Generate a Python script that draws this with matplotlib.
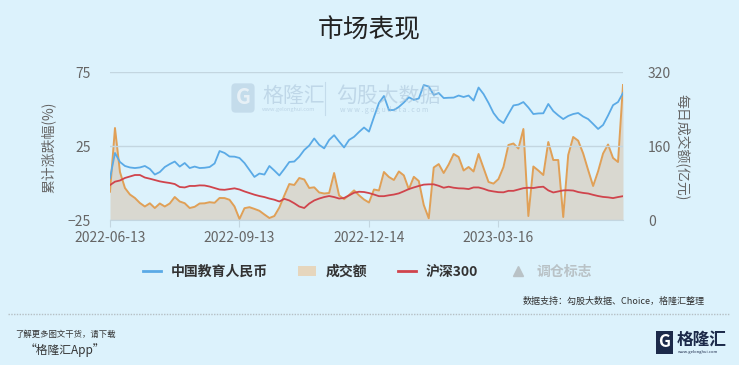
import matplotlib
matplotlib.use("Agg")
import matplotlib.pyplot as plt
from matplotlib.lines import Line2D
from matplotlib.patches import Patch
import numpy as np

plt.rcParams['font.family'] = ['Noto Sans CJK SC', 'DejaVu Sans']

# Data (one point every ~5 px of trading days)
tick_labels = ["2022-06-13", "2022-09-13", "2022-12-14", "2023-03-16"]
tick_pos = [0, 26, 52, 78]

edu_cny = [3.2, 20.3, 14.2, 11.5, 10.5, 10.1, 10.5, 11.5, 9.5, 5.7,
           7.4, 10.8, 12.8, 14.5, 11.1, 13.5, 10.1, 11.1, 10.1, 10.3,
           10.8, 13.2, 21.6, 20.3, 17.9, 17.8, 16.9, 13.5, 8.8, 4.1,
           6.4, 5.7, 11.5, 8.4, 5.1, 9.5, 14.2, 14.5, 17.8, 22.3,
           25.3, 30.1, 25.8, 23.4, 29.1, 32.3, 28.0, 24.0, 29.1, 31.2,
           34.5, 37.5, 34.7, 44.6, 54.1, 58.8, 49.3, 49.3, 51.4, 54.4,
           57.9, 56.2, 57.1, 66.2, 65.2, 59.5, 60.8, 57.4, 57.6, 57.7,
           59.1, 58.1, 59.1, 55.7, 64.5, 60.1, 54.1, 47.3, 42.9, 40.5,
           46.6, 52.4, 53.0, 54.7, 51.0, 46.6, 47.0, 47.1, 53.4, 48.6,
           45.7, 43.2, 45.3, 46.6, 47.3, 44.9, 43.2, 39.9, 36.5, 39.2,
           45.6, 52.6, 54.7, 60.8]

hs300 = [-1.4, 0.9, 1.7, 3.4, 4.4, 5.4, 5.4, 3.7, 2.9, 2.0,
         1.1, 0.5, 0.0, -0.7, -2.7, -3.0, -2.0, -2.0, -1.6, -1.7,
         -2.4, -3.4, -4.4, -4.6, -4.1, -3.6, -4.4, -5.7, -6.8, -7.9,
         -8.8, -9.5, -10.5, -11.3, -12.5, -10.7, -11.8, -13.7, -15.9, -16.9,
         -13.9, -11.8, -10.5, -9.5, -8.8, -9.5, -10.5, -10.1, -8.4, -6.6,
         -5.9, -6.1, -6.8, -7.8, -8.9, -8.9, -8.3, -7.8, -7.0, -5.6,
         -4.1, -3.0, -2.0, -1.1, -0.9, -0.9, -1.9, -3.2, -2.5, -3.2,
         -3.6, -3.7, -4.1, -3.0, -3.0, -3.9, -5.1, -5.7, -6.2, -6.3,
         -5.3, -5.3, -4.4, -3.5, -3.2, -3.4, -2.8, -2.5, -5.0, -6.4,
         -5.7, -5.0, -4.9, -5.1, -6.1, -6.7, -7.1, -8.0, -8.8, -9.4,
         -9.7, -10.2, -9.5, -8.9]

turnover = [61.2, 198.9, 103.8, 69.2, 55.1, 47.6, 36.8, 29.2, 36.1, 25.9,
            35.7, 29.2, 35.7, 49.7, 40.0, 36.3, 25.9, 28.5, 35.7, 36.1,
            38.5, 37.2, 47.6, 47.4, 43.7, 29.2, 2.2, 25.5, 27.7, 24.0,
            19.9, 11.9, 4.3, 8.6, 27.0, 53.0, 77.8, 75.7, 90.8, 87.6,
            69.2, 70.7, 59.5, 57.3, 58.4, 101.6, 53.0, 45.0, 54.1, 64.0,
            53.4, 44.3, 37.8, 65.9, 63.8, 103.8, 93.0, 86.5, 104.9, 96.4,
            66.4, 93.4, 84.3, 32.4, 3.7, 113.5, 120.9, 101.6, 120.0, 142.7,
            136.2, 107.0, 114.6, 104.9, 142.7, 112.4, 82.2, 78.7, 88.6, 114.6,
            162.2, 165.4, 154.6, 196.8, 8.6, 115.7, 107.0, 97.3, 168.6, 129.7,
            129.7, 6.5, 140.5, 179.5, 171.5, 144.0, 108.1, 73.5, 105.3, 143.8,
            163.2, 134.1, 125.4, 291.9]

BG = "#dcf2fc"
BLUE = "#5aaae6"
RED = "#d0444c"
ORANGE = "#e0a057"
FILL = "#d9d6cc"
GRID = "#c3d6e0"
TXT = "#666666"

x = np.arange(len(edu_cny))

fig = plt.figure(figsize=(7.39, 3.65), dpi=100, facecolor=BG)
ax1 = fig.add_axes([110 / 739, 145 / 365, 513 / 739, 148 / 365])
ax2 = ax1.twinx()

# turnover area on the right axis
ax2.fill_between(x, 0, turnover, color=FILL, alpha=0.9, linewidth=0)
ax2.plot(x, turnover, color=ORANGE, lw=1.4)
ax2.set_ylim(0, 320)
ax2.set_yticks([0, 160, 320])

# cumulative change lines on the left axis, drawn above
ax1.set_zorder(ax2.get_zorder() + 1)
ax1.patch.set_visible(False)
ax1.plot(x, edu_cny, color=BLUE, lw=1.3)
ax1.plot(x, hs300, color=RED, lw=1.3)
ax1.set_ylim(-25, 75)
ax1.set_yticks([-25, 25, 75])
ax1.set_xlim(0, len(x) - 1)
ax1.set_xticks(tick_pos)
ax1.set_xticklabels(tick_labels)

for ax in (ax1, ax2):
    for s in ax.spines.values():
        s.set_visible(False)
    ax.tick_params(axis="y", length=0, colors=TXT, labelsize=10)
ax1.tick_params(axis="y", pad=14)
ax2.tick_params(axis="y", pad=18)
ax1.spines["bottom"].set_visible(True)
ax1.spines["bottom"].set_color(GRID)
ax1.tick_params(axis="x", length=5, color=GRID, colors=TXT, labelsize=10, pad=3)
ax1.yaxis.grid(True, color=GRID, lw=1)
ax1.set_axisbelow(True)

fig.text(48 / 739, 1 - 147 / 365, "累计涨跌幅(%)", rotation=90, ha="center", va="center",
         color=TXT, fontsize=10)
fig.text(683 / 739, 1 - 147 / 365, "每日成交额(亿元)", rotation=-90, ha="center", va="center",
         color=TXT, fontsize=10)

# title
fig.text(0.5, 1 - 30 / 365, "市场表现", ha="center", va="center", fontsize=18.5,
         color="#222222")

# watermark
wm = "#a8c2d8"
fig.text(243 / 739, 1 - 98 / 365, "G", ha="center", va="center", fontsize=15,
         fontweight="bold", color="white", alpha=0.6,
         bbox=dict(boxstyle="round,pad=0.2", fc=wm, ec="none", alpha=0.45))
fig.text(262 / 739, 1 - 96 / 365, "格隆汇", ha="left", va="center", fontsize=15,
         color=wm, alpha=0.55)
fig.text(262 / 739, 1 - 110 / 365, "www.gelonghui.com", ha="left", va="center",
         fontsize=4, color=wm, alpha=0.6)
fig.add_artist(Line2D([325 / 739, 325 / 739], [1 - 82 / 365, 1 - 115 / 365],
                      color=wm, lw=0.8, alpha=0.45))
fig.text(336 / 739, 1 - 96 / 365, "勾股大数据", ha="left", va="center", fontsize=15,
         color=wm, alpha=0.55)
fig.text(340 / 739, 1 - 110 / 365, "w w w . g o g u d a t a . c o m", ha="left",
         va="center", fontsize=5, color=wm, alpha=0.6)

# legend
handles = [Line2D([], [], color=BLUE, lw=2),
           Patch(facecolor="#e6d6bd", edgecolor="none"),
           Line2D([], [], color=RED, lw=2),
           Line2D([], [], color="#b9c2c6", marker="^", ls="none", markersize=7)]
labels = ["中国教育人民币", "成交额", "沪深300", "调仓标志"]
leg = fig.legend(handles, labels, loc="center", bbox_to_anchor=(0.497, 1 - 272 / 365),
                 ncol=4, frameon=False, columnspacing=2.2, handlelength=1.3,
                 handletextpad=0.7, prop=dict(size=10, weight="bold"))
for t, c in zip(leg.get_texts(), ["#333333", "#333333", "#333333", "#b9c2c6"]):
    t.set_color(c)

fig.text(705 / 739, 1 - 301 / 365, "数据支持：勾股大数据、Choice，格隆汇整理", ha="right",
         va="center", fontsize=6.5, color="#333333")

# footer
fig.add_artist(Line2D([8 / 739, 730 / 739], [1 - 314 / 365, 1 - 314 / 365],
                      color="#b5bfc4", lw=1, ls=(0, (1, 1))))
fig.text(15 / 739, 1 - 334 / 365, "了解更多图文干货，请下载", ha="left", va="center",
         fontsize=6, style="italic", color="#333333")
fig.text(25 / 739, 1 - 350 / 365, "“格隆汇App”", ha="left", va="center",
         fontsize=8.5, style="italic", color="#333333")
fig.text(664 / 739, 1 - 342 / 365, "G", ha="center", va="center", fontsize=12,
         fontweight="bold", color="white",
         bbox=dict(boxstyle="square,pad=0.15", fc="#1c2a4a", ec="none"))
fig.text(677 / 739, 1 - 340 / 365, "格隆汇", ha="left", va="center", fontsize=12,
         fontweight="bold", color="#1c2a4a")
fig.text(678 / 739, 1 - 352 / 365, "www.gelonghui.com", ha="left", va="center",
         fontsize=3, color="#1c2a4a")

fig.savefig("out.png", dpi=100, facecolor=BG)
